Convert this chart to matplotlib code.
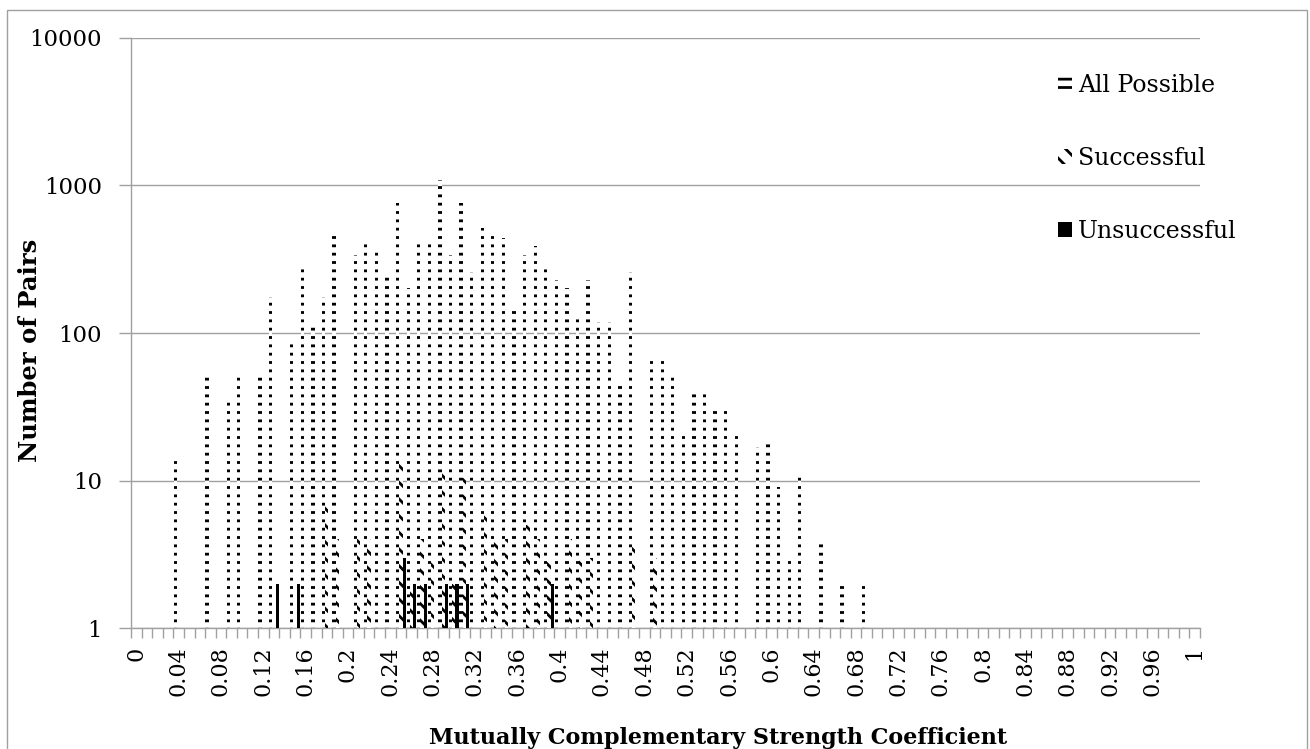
import numpy as np
import matplotlib
matplotlib.use("Agg")
import matplotlib.pyplot as plt
import matplotlib.patches as patches
from matplotlib.ticker import FixedLocator, FuncFormatter, NullFormatter

plt.rcParams['font.family'] = ['DejaVu Serif']
plt.rcParams['hatch.linewidth'] = 2.0

# categories 0.00 .. 1.00, step 0.01
coef = [round(i * 0.01, 2) for i in range(101)]

# counts for 0.00 .. 0.69, nothing above 0.69
all_possible = [0, 0, 0, 0, 14, 0, 0, 50, 0, 34,
                52, 0, 52, 176, 0, 91, 279, 112, 176, 479,
                0, 338, 421, 378, 244, 764, 202, 416, 421, 1090,
                338, 764, 260, 515, 479, 441, 145, 338, 390, 279,
                229, 202, 128, 229, 119, 119, 47, 260, 0, 70,
                70, 53, 20, 41, 41, 31, 31, 21, 0, 17,
                18, 9, 3, 11, 0, 4, 0, 2, 0, 2] + [0] * 31
successful = [0, 0, 0, 0, 0, 0, 0, 0, 0, 0,
              0, 0, 0, 0, 0, 0, 0, 0, 7, 4,
              0, 4, 4, 0, 0, 13, 2, 4, 3, 13,
              2, 12, 0, 6, 4, 4, 0, 5, 4, 3,
              0, 4, 3, 3, 0, 0, 0, 4, 0, 3] + [0] * 51
unsuccessful = [0, 0, 0, 0, 0, 0, 0, 0, 0, 0,
                0, 0, 0, 2, 0, 2, 0, 0, 0, 0,
                0, 0, 0, 0, 0, 3, 2, 2, 0, 2,
                2, 2, 0, 0, 0, 0, 0, 0, 0, 2] + [0] * 61

series_names = ["All Possible", "Successful", "Unsuccessful"]
grid_col = "#a0a0a0"

fig = plt.figure(figsize=(13.1, 7.49), dpi=100)
ax = fig.add_axes([131 / 1310, 1 - 628.3 / 749, (1200 - 131) / 1310, (628.3 - 37.7) / 749])

x = np.arange(len(coef))
w = 0.3125
ax.set_yscale('log')
b1 = ax.bar(x - w, all_possible, w, color='white', edgecolor='black', linewidth=0,
            hatch='--', label=series_names[0], zorder=2)
b2 = ax.bar(x, successful, w, color='white', edgecolor='black', linewidth=0,
            hatch='\\\\', label=series_names[1], zorder=3)
b3 = ax.bar(x + w, unsuccessful, w, color='black', edgecolor='black', linewidth=0,
            label=series_names[2], zorder=4)

ax.set_xlim(-0.5, len(coef) - 0.5)
ax.set_ylim(1, 10000)

# y axis
ax.yaxis.set_major_locator(FixedLocator([1, 10, 100, 1000, 10000]))
ax.yaxis.set_minor_formatter(NullFormatter())
ax.yaxis.set_major_formatter(FuncFormatter(lambda v, p: f"{v:.0f}"))
ax.tick_params(axis='y', which='minor', length=0)
ax.tick_params(axis='y', which='major', length=9, width=1, color=grid_col,
               labelsize=16.5, pad=12)
ax.grid(axis='y', which='major', color=grid_col, linewidth=1, zorder=0)

# x axis: marks between categories, labels every 4th
ax.set_xticks(x[::4])
ax.set_xticklabels([f"{c:g}" for c in coef[::4]], rotation=90, va='top', ha='center')
ax.set_xticks(np.arange(-0.5, len(coef), 1), minor=True)
ax.tick_params(axis='x', which='major', length=0, labelsize=16, pad=13)
ax.tick_params(axis='x', which='minor', length=7, width=1, color=grid_col)

for s in ['top', 'right']:
    ax.spines[s].set_visible(False)
for s in ['left', 'bottom']:
    ax.spines[s].set_color(grid_col)
    ax.spines[s].set_linewidth(1)
ax.set_axisbelow(True)

fig.text(30 / 1310, 1 - 350 / 749, "Number of Pairs", rotation=90, ha='center',
         va='center', fontsize=17.5, fontweight='bold')
fig.text(718 / 1310, 1 - 738 / 749, "Mutually Complementary Strength Coefficient",
         ha='center', va='center', fontsize=16, fontweight='bold')

ax.legend(handles=[b1, b2, b3], loc='upper left', bbox_to_anchor=(1058 / 1310, 1 - 74 / 749),
          bbox_transform=fig.transFigure, frameon=False, fontsize=17,
          handlelength=0.6, handleheight=0.6, handletextpad=0.25, labelspacing=2.12,
          borderaxespad=0, borderpad=0)

# chart border
fig.patches.append(patches.Rectangle((7 / 1310, -0.02), 1300 / 1310, 1.02 - 10 / 749,
                                     transform=fig.transFigure, fill=False,
                                     edgecolor=grid_col, linewidth=1))

fig.savefig("out.png", dpi=100)
